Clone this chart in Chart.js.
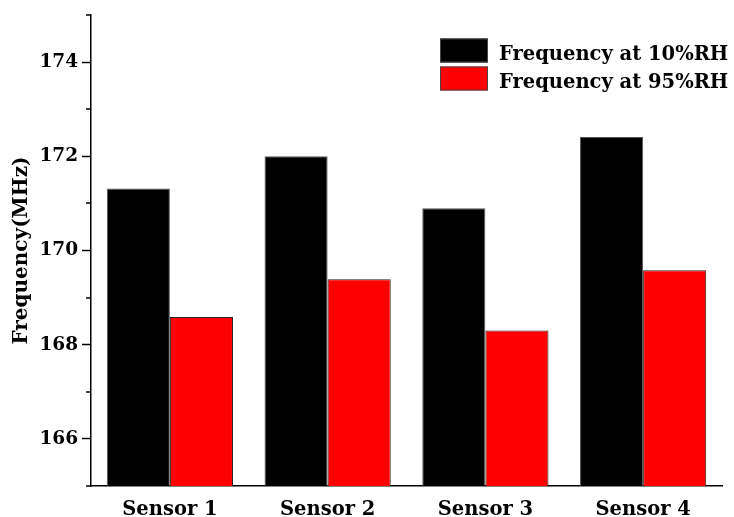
<!DOCTYPE html>
<html>
<head>
<meta charset="utf-8">
<script src="https://cdn.jsdelivr.net/npm/chart.js@4.4.1/dist/chart.umd.min.js"></script>
<style>
  html, body { margin: 0; padding: 0; background: #fff; }
  #wrap { width: 734px; height: 517px; position: relative; }
</style>
</head>
<body>
<div id="wrap"><canvas id="chart" width="734" height="517"></canvas></div>
<script>
// Sensor resonance frequencies (MHz) at low and high humidity
const sensors = ['Sensor 1', 'Sensor 2', 'Sensor 3', 'Sensor 4'];
const freqAt10RH = [171.32, 172.00, 170.90, 172.41];
const freqAt95RH = [168.59, 169.39, 168.30, 169.58];
const seriesLabels = ['Frequency at 10%RH', 'Frequency at 95%RH'];
const yMajorTicks = [166, 168, 170, 172, 174];
const yMinorTicks = [165, 167, 169, 171, 173, 175];
const yMin = 165, yMax = 175;

const FONT = "'DejaVu Serif', 'Liberation Serif', serif";

// Short unlabelled ticks between the labelled ones on the y axis
const minorTicks = {
  id: 'minorTicks',
  afterDraw(chart) {
    const y = chart.scales.y;
    const left = chart.chartArea.left;
    const ctx = chart.ctx;
    ctx.save();
    ctx.strokeStyle = '#000';
    ctx.lineWidth = 1.5;
    yMinorTicks.forEach(v => {
      const py = Math.round(y.getPixelForValue(v));
      ctx.beginPath();
      ctx.moveTo(left - 5, py);
      ctx.lineTo(left, py);
      ctx.stroke();
    });
    ctx.restore();
  }
};

// Legend in the upper right corner, entries stacked vertically
const cornerLegend = {
  id: 'cornerLegend',
  afterDraw(chart) {
    const ctx = chart.ctx;
    const boxX = 440, boxW = 48, boxH = 24, rowH = 28, top = 38.5;
    ctx.save();
    ctx.font = "bold 19.5px " + FONT;
    ctx.textBaseline = 'alphabetic';
    ctx.textAlign = 'left';
    chart.data.datasets.forEach((ds, i) => {
      const y = top + i * rowH;
      ctx.fillStyle = ds.backgroundColor;
      ctx.fillRect(boxX, y, boxW, boxH);
      ctx.strokeStyle = '#444';
      ctx.lineWidth = 1;
      ctx.strokeRect(boxX + 0.5, y + 0.5, boxW - 1, boxH - 1);
      ctx.fillStyle = '#000';
      ctx.fillText(ds.label, boxX + boxW + 11, y + 21.5);
    });
    ctx.restore();
  }
};

new Chart(document.getElementById('chart'), {
  type: 'bar',
  data: {
    labels: sensors,
    datasets: [
      { label: seriesLabels[0], data: freqAt10RH, backgroundColor: '#000000', borderColor: '#555555', borderWidth: 1 },
      { label: seriesLabels[1], data: freqAt95RH, backgroundColor: '#ff0000', borderColor: '#222222', borderWidth: 1 }
    ]
  },
  options: {
    responsive: false,
    animation: false,
    devicePixelRatio: 1,
    layout: { padding: { top: 15, right: 12, left: 0, bottom: 0 } },
    datasets: { bar: { categoryPercentage: 0.8, barPercentage: 1.0 } },
    plugins: { legend: { display: false }, tooltip: { enabled: false } },
    scales: {
      x: {
        grid: { display: false, drawTicks: false },
        border: { display: true, color: '#000', width: 1.5 },
        ticks: { color: '#000', padding: 12, font: { family: FONT, size: 19.5, weight: 'bold' } },
        afterFit(scale) { scale.height = 31; }
      },
      y: {
        min: yMin,
        max: yMax,
        afterBuildTicks(scale) { scale.ticks = yMajorTicks.map(v => ({ value: v })); },
        grid: { drawOnChartArea: false, drawTicks: true, tickLength: 9, color: '#000', tickWidth: 1.5 },
        border: { display: true, color: '#000', width: 1.5 },
        ticks: { color: '#000', padding: 4, font: { family: FONT, size: 18.5, weight: 'bold' } },
        title: { display: true, text: 'Frequency(MHz)', color: '#000', padding: { top: 10, bottom: 0 },
                 font: { family: FONT, size: 20, weight: 'bold' } },
        afterFit(scale) { scale.width = 91; }
      }
    }
  },
  plugins: [minorTicks, cornerLegend]
});
</script>
</body>
</html>
